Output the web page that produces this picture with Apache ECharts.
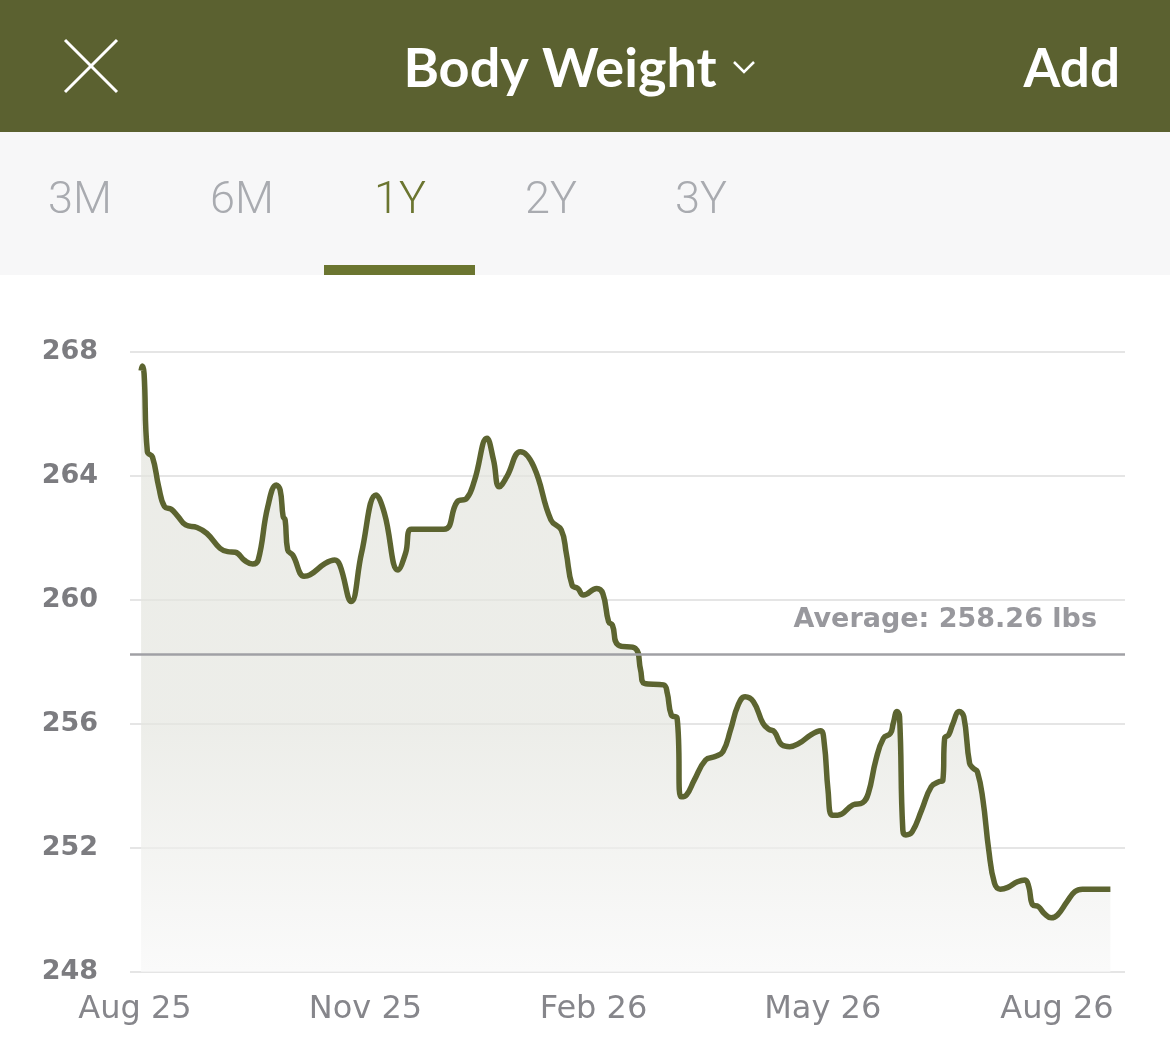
<!DOCTYPE html>
<html>
<head>
<meta charset="utf-8">
<script src="https://cdn.jsdelivr.net/npm/echarts@6/dist/echarts.min.js"></script>
<style>
html,body{margin:0;padding:0;background:#fff;}
#chart{width:1170px;height:1050px;}
</style>
</head>
<body>
<div id="chart"></div>
<script>
// Days since Aug 1 2025
const days = [2.4,2.9,3.6,4.9,6.9,9.4,11.7,14.4,17.1,20.1,24.6,28.5,33.7,36.8,39.8,43.6,46.7,48.9,52.7,56.1,57.6,58.8,59.6,60.6,62.6,67.1,69.4,75.5,79.3,81.3,85.8,89.9,95.7,99.0,104.4,107.4,109.7,122.6,127.9,131.7,134.8,139.7,142.3,144.6,147.6,153.0,158.3,165.1,169.2,171.2,173.5,175.8,178.0,183.3,185.7,188.0,189.5,191.8,198.6,200.7,202.2,209.8,211.3,212.9,215.2,216.7,218.9,222.0,226.5,230.3,233.4,236.4,239.4,242.2,245.5,249.3,251.6,253.8,256.9,259.9,263.7,268.3,272.1,273.6,275.1,276.7,278.9,285.0,288.8,291.1,294.1,297.1,299.9,301.0,302.5,303.5,304.8,306.0,308.5,312.3,316.1,319.2,320.7,321.4,323.0,324.5,327.2,329.0,331.3,332.8,334.4,336.6,338.9,341.2,343.5,346.5,350.3,353.3,354.8,356.4,358.6,360.9,363.7,366.2,370.0,373.1,376.1,387.2];
const weights = [267.4,267.55,267.3,264.78,264.62,263.65,263.01,262.93,262.69,262.42,262.34,262.15,261.67,261.56,261.54,261.27,261.16,261.29,263.01,263.71,263.55,262.69,262.58,261.61,261.45,260.77,260.81,261.18,261.29,261.13,259.95,261.51,263.39,262.80,260.97,261.51,262.28,262.28,263.17,263.28,263.87,265.22,264.52,263.65,263.98,264.78,264.30,262.58,262.26,261.51,260.48,260.37,260.16,260.37,260.21,259.30,259.19,258.55,258.44,257.74,257.31,257.26,256.99,256.29,256.18,253.65,253.71,254.19,254.84,254.95,255.11,255.81,256.61,256.88,256.72,256.02,255.83,255.75,255.32,255.27,255.38,255.65,255.78,255.38,253.87,253.06,253.06,253.39,253.46,253.76,254.84,255.54,255.70,256.02,256.40,256.24,252.58,252.42,252.52,253.23,253.98,254.14,254.19,255.54,255.65,255.97,256.40,256.24,254.73,254.57,254.46,253.55,251.94,250.86,250.67,250.73,250.91,250.97,250.75,250.16,250.11,249.89,249.75,249.84,250.27,250.59,250.67,250.67];
const tickDays = [0, 91.5, 182, 273, 366];
const tickLabels = ['Aug 25', 'Nov 25', 'Feb 26', 'May 26', 'Aug 26'];
const yTicks = [248, 252, 256, 260, 264, 268];
const averageValue = 258.26;
const tabs = ['3M', '6M', '1Y', '2Y', '3Y'];
const activeTab = '1Y';
const titleText = 'Body Weight';
const addText = 'Add';

const points = days.map((d, i) => [d, weights[i]]);
const tabX = [80, 242, 400, 551, 701];

const chart = echarts.init(document.getElementById('chart'), null, {renderer: 'canvas'});

const graphics = [
  {type: 'rect', shape: {x: 0, y: 0, width: 1170, height: 132}, style: {fill: '#5b6130'}, z: 0},
  {type: 'rect', shape: {x: 0, y: 132, width: 1170, height: 143}, style: {fill: '#f7f7f8'}, z: 0},
  {type: 'line', shape: {x1: 65, y1: 40, x2: 117, y2: 92}, style: {stroke: '#ffffff', lineWidth: 3}},
  {type: 'line', shape: {x1: 117, y1: 40, x2: 65, y2: 92}, style: {stroke: '#ffffff', lineWidth: 3}},
  {type: 'text', x: 560, y: 70, style: {text: titleText, fill: '#ffffff', font: 'bold 54px Lato', align: 'center', verticalAlign: 'middle'}},
  {type: 'polyline', shape: {points: [[734, 62], [744, 72], [754, 62]]}, style: {stroke: '#ffffff', lineWidth: 2.5, fill: null}},
  {type: 'text', x: 1120, y: 70, style: {text: addText, fill: '#ffffff', font: 'bold 53px Lato', align: 'right', verticalAlign: 'middle'}},
  {type: 'rect', shape: {x: 324, y: 265, width: 151, height: 10}, style: {fill: '#6b7530'}}
];
tabs.forEach((t, i) => {
  graphics.push({type: 'text', x: tabX[i], y: 202, style: {
    text: t, fill: t === activeTab ? '#6b7530' : '#a9abb0',
    font: '300 45px Roboto', align: 'center', verticalAlign: 'middle'}});
});

chart.setOption({
  animation: false,
  backgroundColor: '#ffffff',
  graphic: graphics,
  grid: {left: 130, right: 45, top: 352, bottom: 78, containLabel: false},
  xAxis: {
    type: 'value', min: -2, max: 393,
    axisLine: {show: false}, axisTick: {show: false}, splitLine: {show: false},
    axisLabel: {
      customValues: tickDays,
      formatter: v => tickLabels[tickDays.indexOf(v)] || '',
      color: '#86868b', fontSize: 32, fontFamily: 'DejaVu Sans', margin: 22
    }
  },
  yAxis: {
    type: 'value', min: yTicks[0], max: yTicks[yTicks.length - 1], interval: 4,
    axisLine: {show: false}, axisTick: {show: false},
    axisLabel: {color: '#7c7c80', fontSize: 27, fontWeight: 'bold', fontFamily: 'DejaVu Sans', margin: 32},
    splitLine: {lineStyle: {color: '#dcdcdc', width: 1.5}}
  },
  series: [{
    type: 'line',
    data: points,
    showSymbol: false,
    smooth: 0.45,
    lineStyle: {color: '#5c6430', width: 5.5},
    itemStyle: {color: '#5c6430'},
    areaStyle: {
      color: new echarts.graphic.LinearGradient(0, 0, 0, 1, [
        {offset: 0, color: '#e3e4dd'},
        {offset: 0.6, color: '#e5e6e0'},
        {offset: 1, color: '#f8f8f8'}
      ])
    },
    markLine: {
      silent: true, symbol: 'none',
      lineStyle: {color: '#a0a0a5', width: 2.5, type: 'solid'},
      label: {
        position: 'insideEndTop',
        formatter: 'Average: ' + averageValue.toFixed(2) + ' lbs',
        color: '#98989d', fontSize: 27, fontWeight: 'bold', fontFamily: 'DejaVu Sans',
        distance: [28, 20]
      },
      data: [{yAxis: averageValue}]
    }
  }]
});
</script>
</body>
</html>
